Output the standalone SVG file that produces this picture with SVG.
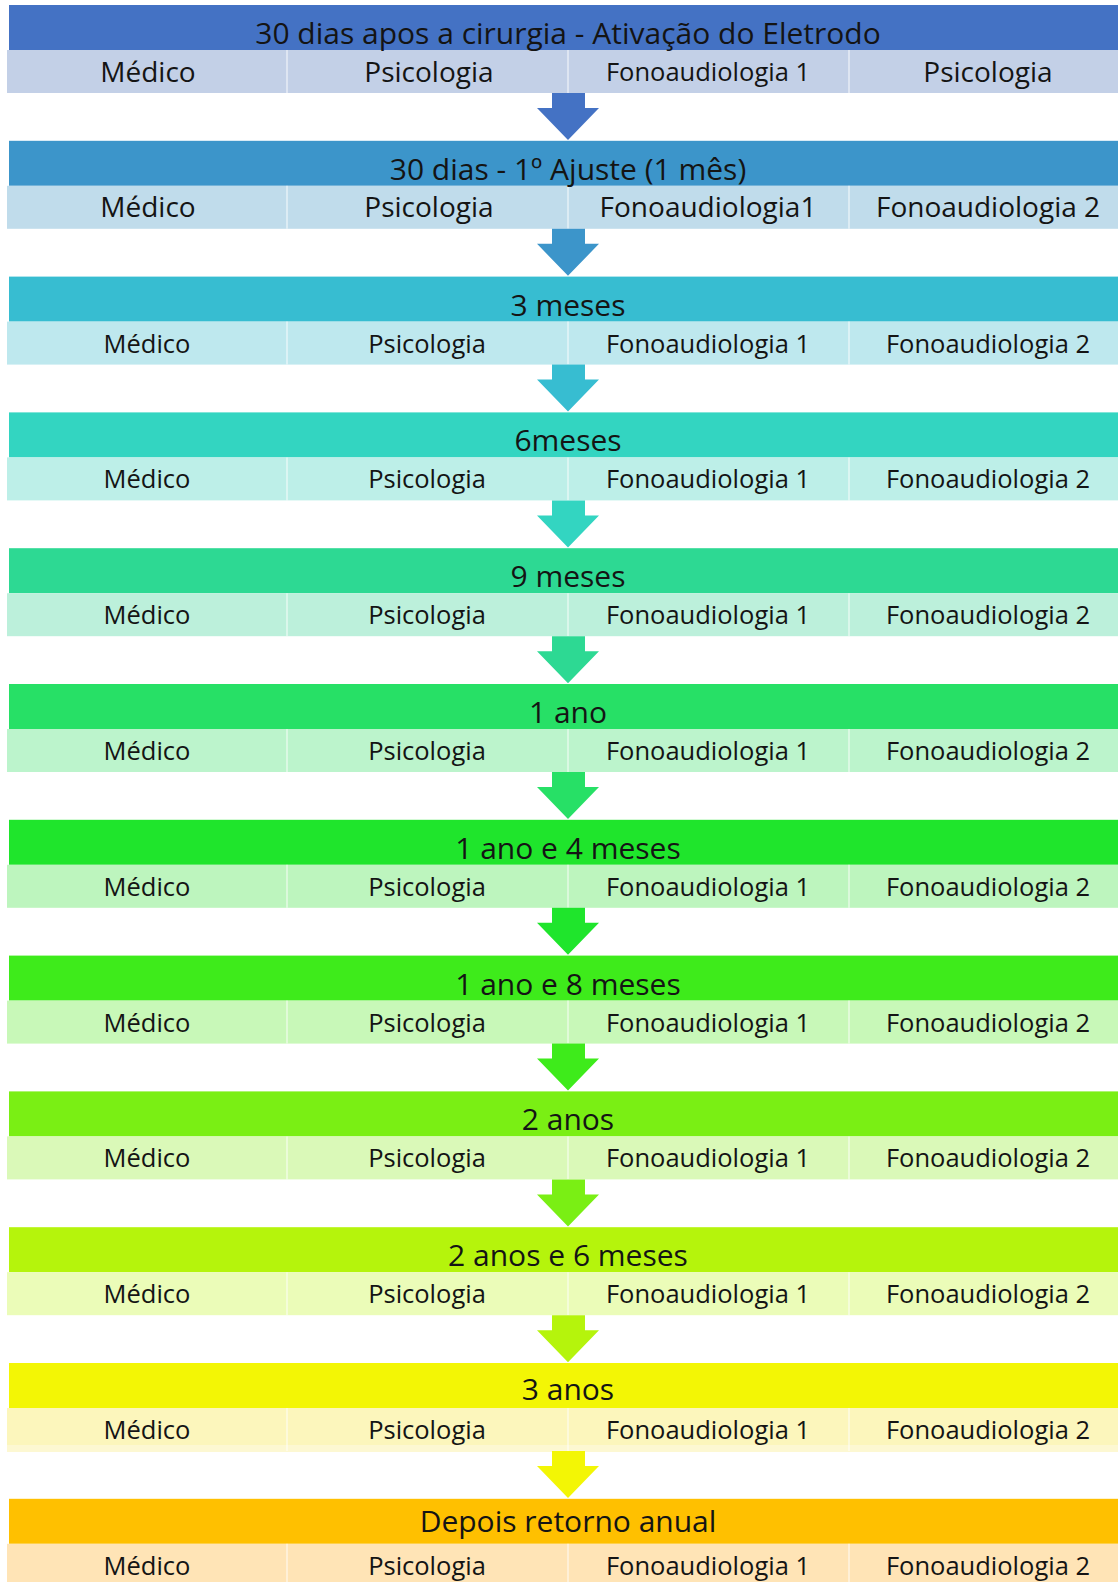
<svg xmlns="http://www.w3.org/2000/svg" width="1118" height="1582" viewBox="0 0 1118 1582">
<style>
text{font-family:"Open Sans","Noto Sans","Liberation Sans",sans-serif;font-size:25.5px;fill:#141414;text-anchor:middle}
text.h{font-size:30px}
text.b{font-size:28px}
.div{stroke:#ffffff;stroke-opacity:0.45;stroke-width:2}
</style>
<defs>
<g id="dividers"><line class="div" x1="287" y1="45" x2="287" y2="88"/><line class="div" x1="568" y1="45" x2="568" y2="88"/><line class="div" x1="849" y1="45" x2="849" y2="88"/></g>
<path id="arrow" d="M552,88H585V103H599L568,135L537,103H552Z"/>
</defs>
<rect width="1118" height="1582" fill="#ffffff"/>
<g id="row1" transform="translate(0,5)">
<rect x="9" y="0" width="1109" height="45" fill="#4472C4"/><rect x="7" y="45" width="1111" height="43" fill="#C3D0E7"/><use href="#dividers"/>
<text class="h" x="568" y="39">30 dias apos a cirurgia - Ativação do Eletrodo</text>
<text class="b" x="148" y="76.5">Médico</text><text class="b" x="429" y="76.5">Psicologia</text><text x="708" y="76">Fonoaudiologia 1</text><text class="b" x="988" y="76.5">Psicologia</text>
</g>
<g id="row2" transform="translate(0,140.8)">
<rect x="9" y="0" width="1109" height="45" fill="#3C95CA"/><rect x="7" y="45" width="1111" height="43" fill="#C0DCEB"/><use href="#dividers"/>
<text class="h" x="568" y="39">30 dias - 1º Ajuste (1 mês)</text>
<text class="b" x="148" y="76.5">Médico</text><text class="b" x="429" y="76.5">Psicologia</text><text class="b" x="708" y="76.5">Fonoaudiologia1</text><text class="b" x="988" y="76.5">Fonoaudiologia 2</text>
</g>
<g id="row3" transform="translate(0,276.6)">
<rect x="9" y="0" width="1109" height="45" fill="#37BDD1"/><rect x="7" y="45" width="1111" height="43" fill="#BEE8EE"/><use href="#dividers"/>
<text class="h" x="568" y="39">3 meses</text>
<text x="147" y="76">Médico</text><text x="427" y="76">Psicologia</text><text x="708" y="76">Fonoaudiologia 1</text><text x="988" y="76">Fonoaudiologia 2</text>
</g>
<g id="row4" transform="translate(0,412.4)">
<rect x="9" y="0" width="1109" height="45" fill="#33D5C1"/><rect x="7" y="45" width="1111" height="43" fill="#BDEFE8"/><use href="#dividers"/>
<text class="h" x="568" y="39">6meses</text>
<text x="147" y="76">Médico</text><text x="427" y="76">Psicologia</text><text x="708" y="76">Fonoaudiologia 1</text><text x="988" y="76">Fonoaudiologia 2</text>
</g>
<g id="row5" transform="translate(0,548.2)">
<rect x="9" y="0" width="1109" height="45" fill="#2DD993"/><rect x="7" y="45" width="1111" height="43" fill="#BCF0DB"/><use href="#dividers"/>
<text class="h" x="568" y="39">9 meses</text>
<text x="147" y="76">Médico</text><text x="427" y="76">Psicologia</text><text x="708" y="76">Fonoaudiologia 1</text><text x="988" y="76">Fonoaudiologia 2</text>
</g>
<g id="row6" transform="translate(0,684)">
<rect x="9" y="0" width="1109" height="45" fill="#27E066"/><rect x="7" y="45" width="1111" height="43" fill="#BCF4CC"/><use href="#dividers"/>
<text class="h" x="568" y="39">1 ano</text>
<text x="147" y="76">Médico</text><text x="427" y="76">Psicologia</text><text x="708" y="76">Fonoaudiologia 1</text><text x="988" y="76">Fonoaudiologia 2</text>
</g>
<g id="row7" transform="translate(0,819.8)">
<rect x="9" y="0" width="1109" height="45" fill="#1FE52C"/><rect x="7" y="45" width="1111" height="43" fill="#BDF5BE"/><use href="#dividers"/>
<text class="h" x="568" y="39">1 ano e 4 meses</text>
<text x="147" y="76">Médico</text><text x="427" y="76">Psicologia</text><text x="708" y="76">Fonoaudiologia 1</text><text x="988" y="76">Fonoaudiologia 2</text>
</g>
<g id="row8" transform="translate(0,955.6)">
<rect x="9" y="0" width="1109" height="45" fill="#3EEB1B"/><rect x="7" y="45" width="1111" height="43" fill="#C8F8B8"/><use href="#dividers"/>
<text class="h" x="568" y="39">1 ano e 8 meses</text>
<text x="147" y="76">Médico</text><text x="427" y="76">Psicologia</text><text x="708" y="76">Fonoaudiologia 1</text><text x="988" y="76">Fonoaudiologia 2</text>
</g>
<g id="row9" transform="translate(0,1091.4)">
<rect x="9" y="0" width="1109" height="45" fill="#7AEF14"/><rect x="7" y="45" width="1111" height="43" fill="#DAF9B8"/><use href="#dividers"/>
<text class="h" x="568" y="39">2 anos</text>
<text x="147" y="76">Médico</text><text x="427" y="76">Psicologia</text><text x="708" y="76">Fonoaudiologia 1</text><text x="988" y="76">Fonoaudiologia 2</text>
</g>
<g id="row10" transform="translate(0,1227.2)">
<rect x="9" y="0" width="1109" height="45" fill="#B5F40C"/><rect x="7" y="45" width="1111" height="43" fill="#EBFCB8"/><use href="#dividers"/>
<text class="h" x="568" y="39">2 anos e 6 meses</text>
<text x="147" y="76">Médico</text><text x="427" y="76">Psicologia</text><text x="708" y="76">Fonoaudiologia 1</text><text x="988" y="76">Fonoaudiologia 2</text>
</g>
<g id="row11" transform="translate(0,1363)">
<rect x="9" y="0" width="1109" height="45" fill="#F3F605"/><rect x="7" y="45" width="1111" height="43" fill="#FCF6BC"/><rect x="7" y="82" width="1111" height="7" fill="#FDF8D2"/><use href="#dividers"/>
<text class="h" x="568" y="37">3 anos</text>
<text x="147" y="76">Médico</text><text x="427" y="76">Psicologia</text><text x="708" y="76">Fonoaudiologia 1</text><text x="988" y="76">Fonoaudiologia 2</text>
</g>
<g id="row12" transform="translate(0,1498.8)">
<rect x="9" y="0" width="1109" height="45" fill="#FFC000"/><rect x="7" y="45" width="1111" height="43" fill="#FFE4B6"/><use href="#dividers"/>
<text class="h" x="568" y="33">Depois retorno anual</text>
<text x="147" y="76">Médico</text><text x="427" y="76">Psicologia</text><text x="708" y="76">Fonoaudiologia 1</text><text x="988" y="76">Fonoaudiologia 2</text>
</g>
<g id="connectors">
<use href="#arrow" transform="translate(0,5)" fill="#4472C4"/>
<use href="#arrow" transform="translate(0,140.8)" fill="#3C95CA"/>
<use href="#arrow" transform="translate(0,276.6)" fill="#37BDD1"/>
<use href="#arrow" transform="translate(0,412.4)" fill="#33D5C1"/>
<use href="#arrow" transform="translate(0,548.2)" fill="#2DD993"/>
<use href="#arrow" transform="translate(0,684)" fill="#27E066"/>
<use href="#arrow" transform="translate(0,819.8)" fill="#1FE52C"/>
<use href="#arrow" transform="translate(0,955.6)" fill="#3EEB1B"/>
<use href="#arrow" transform="translate(0,1091.4)" fill="#7AEF14"/>
<use href="#arrow" transform="translate(0,1227.2)" fill="#B5F40C"/>
<use href="#arrow" transform="translate(0,1363)" fill="#F3F605"/>
</g>
</svg>
